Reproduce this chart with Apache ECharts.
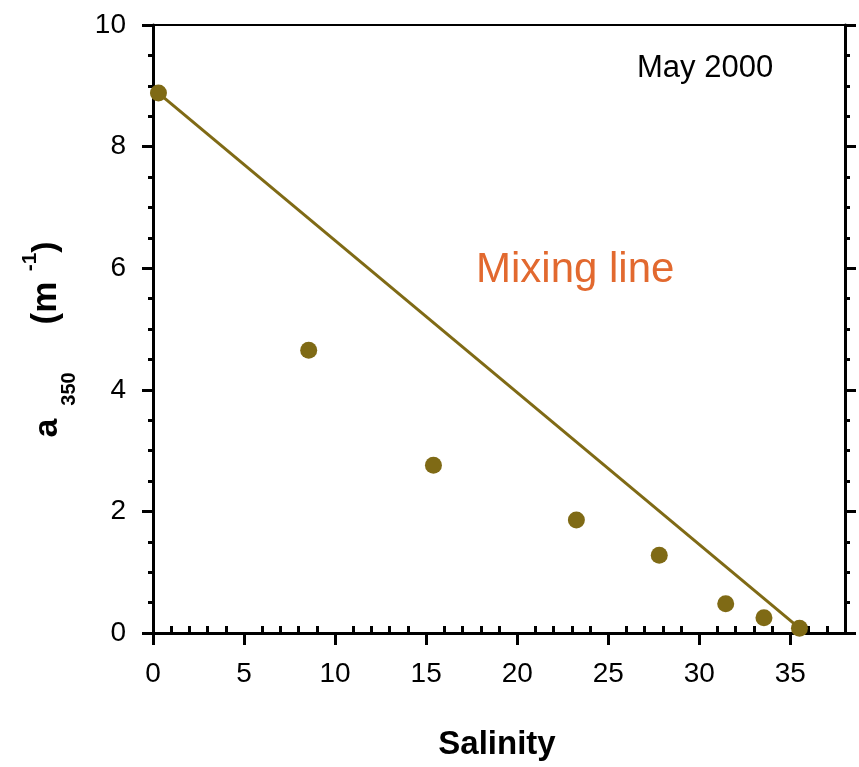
<!DOCTYPE html>
<html>
<head>
<meta charset="utf-8">
<script src="https://cdn.jsdelivr.net/npm/echarts@6/dist/echarts.min.js"></script>
<style>html,body{margin:0;padding:0;background:#fff}#c{width:859px;height:767px}</style>
</head>
<body>
<div id="c"></div>
<script>
// Data
var salinity = [0.3, 8.55, 15.4, 23.25, 27.8, 31.45, 33.55, 35.5];
var a350 = [8.88, 4.65, 2.76, 1.86, 1.28, 0.48, 0.25, 0.08];
var mixSalinity = [0.3, 35.5];
var mixA350 = [8.88, 0.08];
var xTickLabels = [0, 5, 10, 15, 20, 25, 30, 35];
var xMinorTicks = [1,2,3,4,6,7,8,9,11,12,13,14,16,17,18,19,21,22,23,24,26,27,28,29,31,32,33,34,36,37];
var yTickLabels = [0, 2, 4, 6, 8, 10];

var FONT = '"Liberation Sans", Arial, sans-serif';
var OLIVE = '#7f6a15';

var chart = echarts.init(document.getElementById('c'), null, {renderer: 'canvas'});

function pts(xs, ys) { return xs.map(function (x, i) { return [x, ys[i]]; }); }

function rtext(t, x, y, size, weight) {
  return {
    type: 'text', x: x, y: y, rotation: Math.PI / 2, silent: true,
    style: { text: t, fill: '#000', font: weight + ' ' + size + 'px ' + FONT,
             textAlign: 'center', textVerticalAlign: 'middle', align: 'center', verticalAlign: 'middle' }
  };
}

var option = {
  animation: false,
  backgroundColor: '#fff',
  grid: { left: 153, right: 14, top: 25, bottom: 134, containLabel: false },
  xAxis: [
    {
      type: 'value', position: 'bottom', min: 0, max: 38, interval: 5,
      axisLine: { show: true, onZero: false, lineStyle: { color: '#000', width: 3 } },
      axisTick: { show: true, inside: false, length: 12, lineStyle: { color: '#000', width: 3 }, customValues: xTickLabels },
      axisLabel: { show: true, margin: 27, color: '#000', fontSize: 28, fontFamily: FONT, customValues: xTickLabels },
      splitLine: { show: false }
    },
    {
      type: 'value', position: 'bottom', min: 0, max: 38, interval: 1,
      axisLine: { show: false, onZero: false },
      axisTick: { show: true, inside: true, length: 7, lineStyle: { color: '#000', width: 3 }, customValues: xMinorTicks },
      axisLabel: { show: false },
      splitLine: { show: false }
    },
    {
      type: 'value', position: 'top', min: 0, max: 38,
      axisLine: { show: true, onZero: false, lineStyle: { color: '#000', width: 2 } },
      axisTick: { show: false }, axisLabel: { show: false }, splitLine: { show: false }
    }
  ],
  yAxis: [
    {
      type: 'value', position: 'left', min: 0, max: 10, interval: 2,
      axisLine: { show: true, onZero: false, lineStyle: { color: '#000', width: 3 } },
      axisTick: { show: true, inside: false, length: 11, lineStyle: { color: '#000', width: 3 } },
      minorTick: { show: true, splitNumber: 4, length: 5, lineStyle: { color: '#000', width: 3 } },
      axisLabel: { show: true, margin: 27, color: '#000', fontSize: 28, fontFamily: FONT },
      splitLine: { show: false }
    },
    {
      type: 'value', position: 'right', min: 0, max: 10, interval: 2,
      axisLine: { show: true, onZero: false, lineStyle: { color: '#000', width: 3 } },
      axisTick: { show: true, inside: false, length: 11, lineStyle: { color: '#000', width: 3 } },
      minorTick: { show: true, splitNumber: 4, length: 5, lineStyle: { color: '#000', width: 3 } },
      axisLabel: { show: false },
      splitLine: { show: false }
    }
  ],
  series: [
    {
      type: 'line', xAxisIndex: 0, yAxisIndex: 0,
      data: pts(mixSalinity, mixA350),
      showSymbol: false, symbol: 'none',
      lineStyle: { color: OLIVE, width: 3 },
      z: 2
    },
    {
      type: 'scatter', xAxisIndex: 0, yAxisIndex: 0,
      data: pts(salinity, a350),
      symbol: 'circle', symbolSize: 17,
      itemStyle: { color: OLIVE, opacity: 1 },
      z: 3
    }
  ],
  graphic: [
    { type: 'text', x: 637, y: 68, silent: true,
      style: { text: 'May 2000', fill: '#000', font: 'normal 31px ' + FONT,
               textAlign: 'left', textVerticalAlign: 'middle', align: 'left', verticalAlign: 'middle' } },
    { type: 'text', x: 476, y: 270, silent: true,
      style: { text: 'Mixing line', fill: '#e2692f', font: 'normal 42px ' + FONT,
               textAlign: 'left', textVerticalAlign: 'middle', align: 'left', verticalAlign: 'middle' } },
    { type: 'text', x: 497, y: 745, silent: true,
      style: { text: 'Salinity', fill: '#000', font: 'bold 33px ' + FONT,
               textAlign: 'center', textVerticalAlign: 'middle', align: 'center', verticalAlign: 'middle' } },
    rtext('a', 48, 428, 34, 'bold'),
    rtext('350', 69, 389, 20, 'bold'),
    rtext('(m', 46, 303, 35, 'bold'),
    rtext('-1', 30, 262, 21, 'bold'),
    rtext(')', 46, 247, 34, 'bold')
  ]
};
chart.setOption(option);
</script>
</body>
</html>
